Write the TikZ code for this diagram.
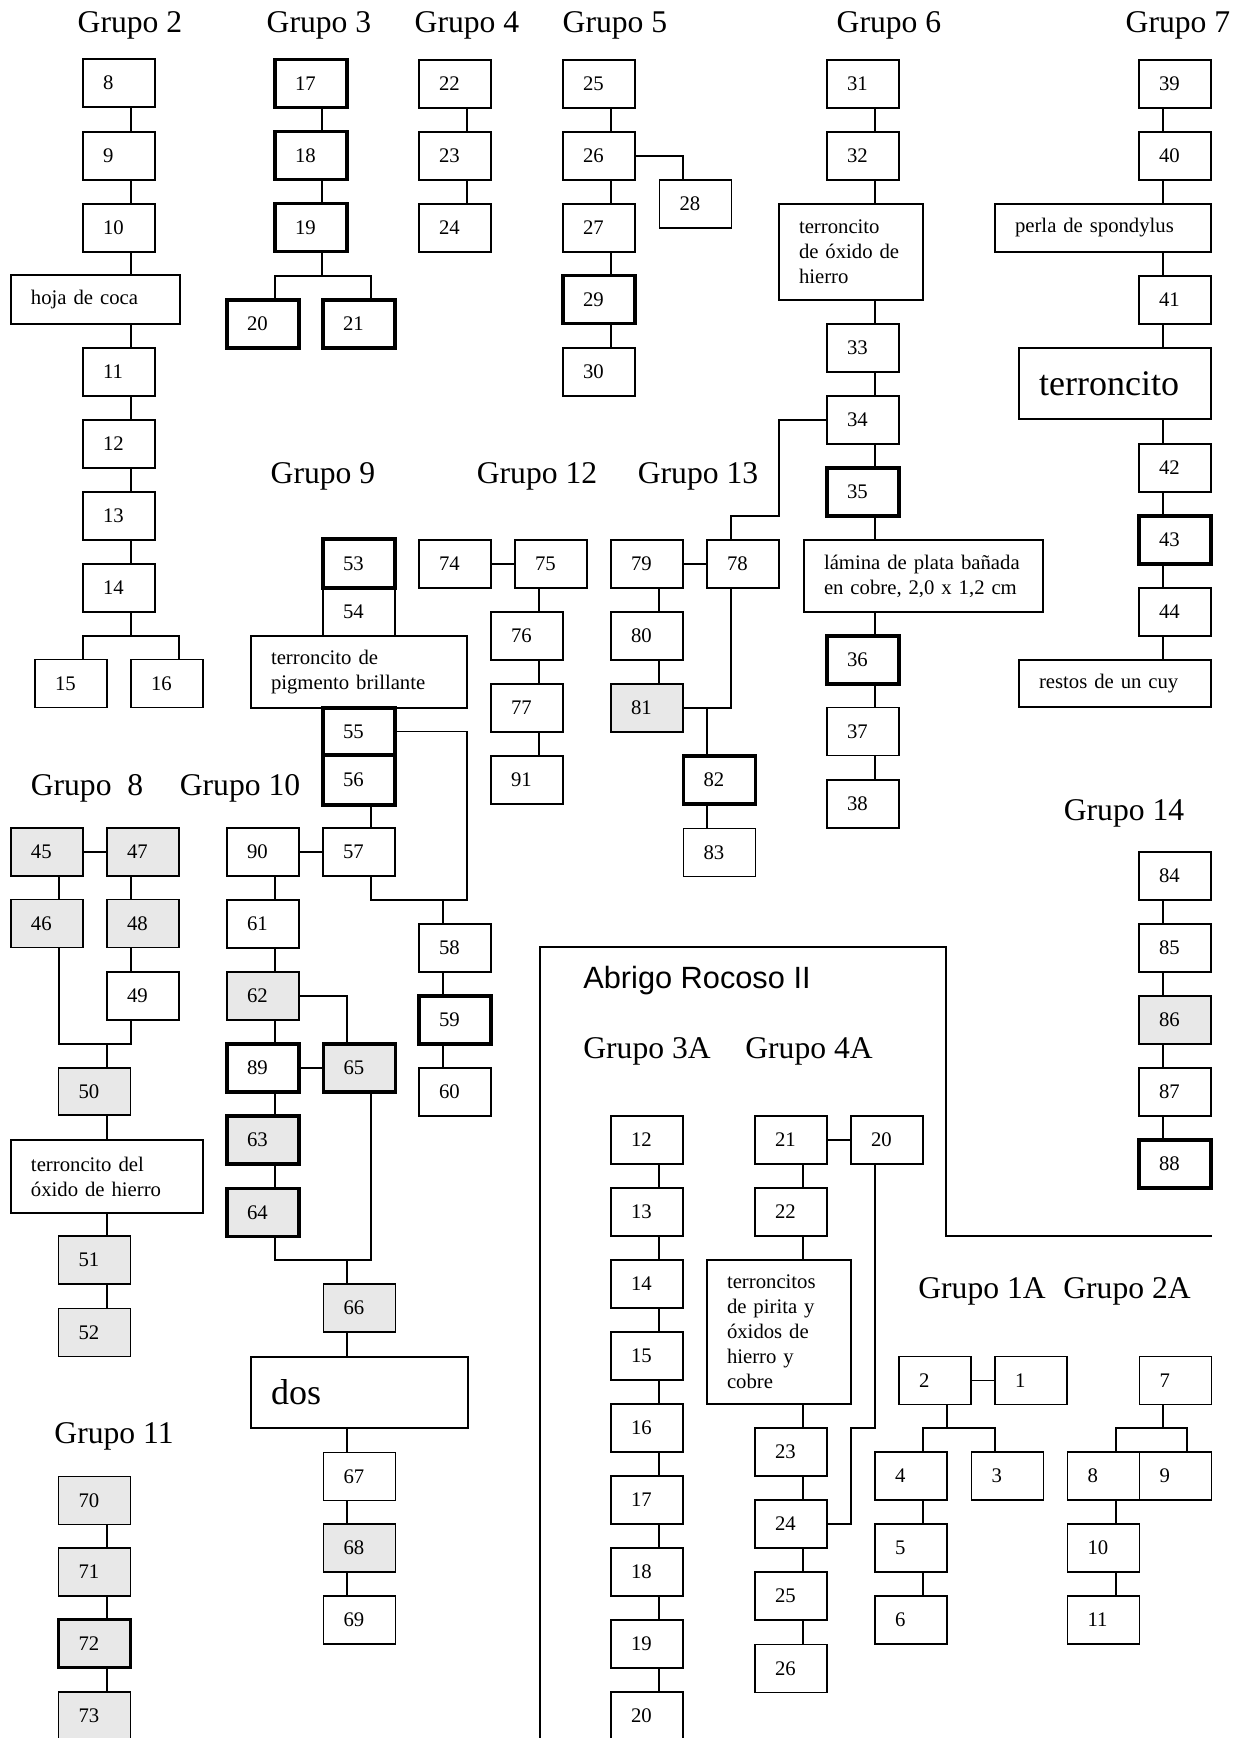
\documentclass[tikz,border=0pt]{standalone}
\usepackage{fontspec}
\setmainfont{Liberation Serif}
\newfontfamily\abrigofont{Liberation Sans}
\definecolor{shade}{gray}{0.91}
\newlength{\pxl}
\setlength{\pxl}{0.02cm}
\tikzset{
  box/.style={draw, line width=0.8pt, inner xsep=20\pxl, inner ysep=0pt,
    text width=32\pxl, minimum height=48\pxl, align=left,
    font=\fontsize{11.8}{14.2}\selectfont},
  heavy/.style={line width=2pt},
  grayfill/.style={fill=shade},
  grp/.style={anchor=base, inner sep=0pt, font=\fontsize{18}{21}\selectfont},
  link/.style={line width=0.8pt}
}

\begin{document}
\begin{tikzpicture}[x=0.02cm, y=-0.02cm]
  \useasboundingbox (0,0) rectangle (1242,1738);

  % Labels
  \node[grp] at (130,32) {Grupo 2};
  \node[grp] at (319,32) {Grupo 3};
  \node[grp] at (467,32) {Grupo 4};
  \node[grp] at (615,32) {Grupo 5};
  \node[grp] at (889,32) {Grupo 6};
  \node[grp] at (1178,32) {Grupo 7};
  \node[grp] at (323,483) {Grupo 9};
  \node[grp] at (537,483) {Grupo 12};
  \node[grp] at (698,483) {Grupo 13};
  \node[grp] at (87,795) {Grupo~~8};
  \node[grp] at (240,795) {Grupo 10};
  \node[grp] at (1124,820) {Grupo 14};
  \node[grp] at (114,1443) {Grupo 11};

  % Grupo 2
  \node[box] (n8) at (119,83) {8};
  \node[box] (n9) at (119,156) {9};
  \node[box] (n10) at (119,228) {10};
  \node[box, text width=129\pxl, minimum height=49\pxl] (coca) at (95.5,299.5) {hoja de coca};
  \node[box] (n11) at (119,372) {11};
  \node[box] (n12) at (119,444) {12};
  \node[box] (n13) at (119,516) {13};
  \node[box] (n14) at (119,588) {14};
  \node[box] (n15) at (71,683.5) {15};
  \node[box] (n16) at (167,683.5) {16};
  \coordinate (s2) at (131,0);
  \foreach \a/\b in {n8/n9,n9/n10,n10/coca,coca/n11,n11/n12,n12/n13,n13/n14}
    \draw[link] (\a.south -| s2) -- (\b.north -| s2);
  \coordinate (j2) at (131,636);
  \coordinate (l15) at (83,636);
  \coordinate (l16) at (179,636);
  \draw[link] (n14.south -| s2) -- (j2);
  \draw[link] (n15.north -| l15) -- (l15) -- (l16) -- (n16.north -| l16);

  % Grupo 3
  \node[box, heavy] (n17) at (311,83.5) {17};
  \node[box, heavy] (n18) at (311,155.5) {18};
  \node[box, heavy] (n19) at (311,227.5) {19};
  \node[box, heavy] (n20) at (263,324) {20};
  \node[box, heavy] (n21) at (359,324) {21};
  \coordinate (s3) at (322,0);
  \draw[link] (n17.south -| s3) -- (n18.north -| s3);
  \draw[link] (n18.south -| s3) -- (n19.north -| s3);
  \coordinate (j3) at (322,276);
  \coordinate (l20) at (275,276);
  \coordinate (l21) at (371,276);
  \draw[link] (n19.south -| s3) -- (j3);
  \draw[link] (n20.north -| l20) -- (l20) -- (l21) -- (n21.north -| l21);

  % Grupo 4
  \node[box] (n22) at (455,84) {22};
  \node[box] (n23) at (455,156) {23};
  \node[box] (n24) at (455,228) {24};
  \coordinate (s4) at (467,0);
  \draw[link] (n22.south -| s4) -- (n23.north -| s4);
  \draw[link] (n23.south -| s4) -- (n24.north -| s4);

  % Grupo 5
  \node[box] (n25) at (599,84) {25};
  \node[box] (n26) at (599,156) {26};
  \node[box] (n27) at (599,228) {27};
  \node[box] (n28) at (695.5,204) {28};
  \node[box, heavy] (n29) at (599,299.5) {29};
  \node[box] (n30) at (599,372) {30};
  \coordinate (s5) at (611,0);
  \foreach \a/\b in {n25/n26,n26/n27,n27/n29,n29/n30}
    \draw[link] (\a.south -| s5) -- (\b.north -| s5);
  \coordinate (s28) at (683,0);
  \draw[link] (n26.east) -| (n28.north -| s28);

  % Grupo 6
  \node[box] (n31) at (863,84) {31};
  \node[box] (n32) at (863,156) {32};
  \node[box, text width=104\pxl, minimum height=96\pxl] (ox6) at (851,252)
    {terroncito\\de óxido de\\hierro};
  \node[box] (n33) at (863,348) {33};
  \node[box] (n34) at (863,420) {34};
  \node[box, heavy] (n35) at (863,492) {35};
  \node[box, text width=199\pxl, minimum height=72\pxl] (lam) at (923.5,576)
    {lámina de plata bañada\\en cobre, 2,0 x 1,2 cm};
  \node[box, heavy] (n36) at (863,660) {36};
  \node[box] (n37) at (863,731.5) {37};
  \node[box] (n38) at (863,804) {38};
  \coordinate (s6) at (875,0);
  \foreach \a/\b in {n31/n32,n32/ox6,ox6/n33,n33/n34,n34/n35,n35/lam,lam/n36,n36/n37,n37/n38}
    \draw[link] (\a.south -| s6) -- (\b.north -| s6);

  % Grupo 7
  \node[box] (n39) at (1175,84) {39};
  \node[box] (n40) at (1175,156) {40};
  \node[box, text width=176\pxl] (perla) at (1103,228) {perla de spondylus};
  \node[box] (n41) at (1175,300) {41};
  \node[box, text width=152\pxl, minimum height=71\pxl,
    font=\fontsize{20.5}{24}\selectfont] (terr7) at (1115,383.5) {terroncito};
  \node[box] (n42) at (1175,468) {42};
  \node[box, heavy] (n43) at (1175,540) {43};
  \node[box] (n44) at (1175,612) {44};
  \node[box, text width=152\pxl, minimum height=47\pxl] (cuy) at (1115,683.5) {restos de un cuy};
  \coordinate (s7) at (1163,0);
  \foreach \a/\b in {n39/n40,n40/perla,perla/n41,n41/terr7,terr7/n42,n42/n43,n43/n44,n44/cuy}
    \draw[link] (\a.south -| s7) -- (\b.north -| s7);

  % Grupo 9
  \node[box] (n54) at (359,612) {54};
  \node[box, heavy, minimum height=49\pxl] (n53) at (359,563.5) {53};
  \node[box, text width=176\pxl, minimum height=72\pxl] (pig) at (359,672)
    {terroncito de\\pigmento brillante};
  \node[box, heavy, minimum height=47\pxl] (n55) at (359,731.5) {55};
  \node[box, heavy, minimum height=50\pxl] (n56) at (359,780) {56};
  \node[box] (n58) at (455,948) {58};
  \node[box, heavy] (n59) at (455,1020) {59};
  \node[box] (n60) at (455,1092) {60};

  % Grupo 10
  \node[box] (n57) at (359,852) {57};
  \node[box] (n90) at (263,852) {90};
  \node[box] (n61) at (263,924) {61};
  \node[box, grayfill] (n62) at (263,996) {62};
  \node[box, heavy] (n89) at (263,1068) {89};
  \node[box, heavy, grayfill] (n65) at (359.5,1068) {65};
  \node[box, heavy, grayfill] (n63) at (263,1140) {63};
  \node[box, heavy, grayfill] (n64) at (263,1212.5) {64};
  \node[box, grayfill] (n66) at (359.5,1308) {66};
  \node[box, text width=177\pxl, minimum height=71\pxl,
    font=\fontsize{20.5}{24}\selectfont] (dos) at (359.5,1392.5) {dos};
  \node[box] (n67) at (359.5,1476.5) {67};
  \node[box, grayfill] (n68) at (359.5,1548) {68};
  \node[box] (n69) at (359.5,1620) {69};

  \coordinate (s57) at (371,0);
  \coordinate (j55) at (467,900);
  \coordinate (s58) at (443,0);
  \draw[link] (n56.south -| s57) -- (n57.north -| s57);
  \draw[link] (n55.east) -| (j55) -| (n57.south -| s57);
  \draw[link] (j55 -| s58) -- (n58.north -| s58);
  \draw[link] (n58.south -| s58) -- (n59.north -| s58);
  \draw[link] (n59.south -| s58) -- (n60.north -| s58);

  \draw[link] (n90) -- (n57);
  \draw[link] (n89) -- (n65);
  \coordinate (s10) at (275,0);
  \foreach \a/\b in {n90/n61,n61/n62,n62/n89,n89/n63,n63/n64}
    \draw[link] (\a.south -| s10) -- (\b.north -| s10);
  \coordinate (s65) at (347,0);
  \draw[link] (n62.east) -| (n65.north -| s65);
  \coordinate (j10) at (371,1260);
  \draw[link] (n64.south -| s10) |- (j10) -- (n65.south -| j10);
  \draw[link] (j10 -| s65) -- (n66.north -| s65);
  \foreach \a/\b in {n66/dos,dos/n67,n67/n68,n68/n69}
    \draw[link] (\a.south -| s65) -- (\b.north -| s65);

  % Grupo 8
  \node[box, grayfill] (n45) at (47,852) {45};
  \node[box, grayfill] (n47) at (143,852) {47};
  \node[box, grayfill] (n46) at (47,923.5) {46};
  \node[box, grayfill] (n48) at (143,923.5) {48};
  \node[box] (n49) at (143,996) {49};
  \node[box, grayfill, minimum height=47\pxl] (n50) at (94.5,1091.5) {50};
  \node[box, text width=152\pxl, minimum height=73\pxl] (ox8) at (107,1176.5)
    {terroncito del\\óxido de hierro};
  \node[box, grayfill] (n51) at (94.5,1260) {51};
  \node[box, grayfill] (n52) at (94.5,1332.5) {52};
  \draw[link] (n45) -- (n47);
  \coordinate (s45) at (59,0);
  \coordinate (s47) at (131,0);
  \draw[link] (n45.south -| s45) -- (n46.north -| s45);
  \draw[link] (n47.south -| s47) -- (n48.north -| s47);
  \draw[link] (n48.south -| s47) -- (n49.north -| s47);
  \coordinate (j8) at (107,1044);
  \coordinate (s8) at (107,0);
  \draw[link] (n46.south -| s45) |- (j8) -| (n49.south -| s47);
  \draw[link] (j8) -- (n50.north -| s8);
  \foreach \a/\b in {n50/ox8,ox8/n51,n51/n52}
    \draw[link] (\a.south -| s8) -- (\b.north -| s8);

  % Grupo 11
  \node[box, grayfill] (n70) at (94.5,1500.5) {70};
  \node[box, grayfill] (n71) at (94.5,1572) {71};
  \node[box, heavy, grayfill] (n72) at (94.5,1643.5) {72};
  \node[box, grayfill] (n73) at (94.5,1716) {73};
  \foreach \a/\b in {n70/n71,n71/n72,n72/n73}
    \draw[link] (\a.south -| s8) -- (\b.north -| s8);

  % Grupo 12
  \node[box] (n74) at (455,564) {74};
  \node[box] (n75) at (551,564) {75};
  \node[box] (n76) at (527,636) {76};
  \node[box] (n77) at (527,708) {77};
  \node[box] (n91) at (527,780) {91};
  \draw[link] (n74) -- (n75);
  \coordinate (s12) at (539,0);
  \foreach \a/\b in {n75/n76,n76/n77,n77/n91}
    \draw[link] (\a.south -| s12) -- (\b.north -| s12);

  % Grupo 13
  \node[box] (n79) at (647,564) {79};
  \node[box] (n78) at (743,564) {78};
  \node[box] (n80) at (647,636) {80};
  \node[box, grayfill] (n81) at (647,708) {81};
  \node[box, heavy] (n82) at (719.5,780) {82};
  \node[box] (n83) at (719.5,852.5) {83};
  \draw[link] (n79) -- (n78);
  \coordinate (s13) at (659,0);
  \draw[link] (n79.south -| s13) -- (n80.north -| s13);
  \draw[link] (n80.south -| s13) -- (n81.north -| s13);
  \coordinate (s78) at (731,0);
  \coordinate (s82) at (707,0);
  \draw[link] (n81.east) -| (n78.south -| s78);
  \draw[link] (n81.east -| s82) -- (n82.north -| s82);
  \draw[link] (n82.south -| s82) -- (n83.north -| s82);
  \coordinate (j34) at (779,516);
  \draw[link] (n34.west) -| (j34) -| (n78.north -| s78);

  % Grupo 14
  \node[box] (n84) at (1175,876) {84};
  \node[box] (n85) at (1175,948) {85};
  \node[box, grayfill] (n86) at (1175,1020) {86};
  \node[box] (n87) at (1175,1092) {87};
  \node[box, heavy] (n88) at (1175,1164) {88};
  \foreach \a/\b in {n84/n85,n85/n86,n86/n87,n87/n88}
    \draw[link] (\a.south -| s7) -- (\b.north -| s7);

  % Abrigo Rocoso II
  \draw[link] (540,1745) -- (540,947) -- (946,947) -- (946,1236) -- (1212,1236);
  \node[anchor=base west, inner sep=0pt, font=\abrigofont\fontsize{17.5}{21}\selectfont]
    at (583,988) {Abrigo Rocoso II};
  \node[grp, anchor=base west] at (583,1058) {Grupo 3A};
  \node[grp, anchor=base west] at (745,1058) {Grupo 4A};
  \node[grp, anchor=base west] at (918,1298) {Grupo 1A};
  \node[grp, anchor=base west] at (1063,1298) {Grupo 2A};

  % Grupo 3A
  \foreach \i in {12,...,20}
    \node[box] (a3-\i) at (647,{1140+72*(\i-12)}) {\i};
  \coordinate (s3a) at (659,0);
  \foreach \a/\b in {12/13,13/14,14/15,15/16,16/17,17/18,18/19,19/20}
    \draw[link] (a3-\a.south -| s3a) -- (a3-\b.north -| s3a);

  % Grupo 4A
  \node[box] (a4-21) at (791,1140) {21};
  \node[box] (a4-20) at (887,1140) {20};
  \node[box] (a4-22) at (791,1212) {22};
  \node[box, text width=104\pxl, minimum height=144\pxl] (pir) at (779,1332)
    {terroncitos\\de pirita y\\óxidos de\\hierro y\\cobre};
  \node[box] (a4-23) at (791,1452) {23};
  \node[box] (a4-24) at (791,1524) {24};
  \node[box] (a4-25) at (791,1596) {25};
  \node[box] (a4-26) at (791,1668.5) {26};
  \draw[link] (a4-21) -- (a4-20);
  \coordinate (s4a) at (803,0);
  \foreach \a/\b in {a4-21/a4-22,a4-22/pir,pir/a4-23,a4-23/a4-24,a4-24/a4-25,a4-25/a4-26}
    \draw[link] (\a.south -| s4a) -- (\b.north -| s4a);
  \coordinate (s20) at (875,0);
  \coordinate (j20) at (851,1428);
  \draw[link] (a4-20.south -| s20) |- (j20) |- (a4-24.east);

  % Grupo 1A
  \node[box] (a1-2) at (935,1380.5) {2};
  \node[box] (a1-1) at (1031,1380.5) {1};
  \node[box] (a1-4) at (911,1476) {4};
  \node[box] (a1-3) at (1007.5,1476) {3};
  \node[box] (a1-5) at (911,1548) {5};
  \node[box] (a1-6) at (911,1620) {6};
  \draw[link] (a1-2) -- (a1-1);
  \coordinate (j1a) at (947,1428);
  \coordinate (l4) at (923,1428);
  \coordinate (l3) at (995,1428);
  \draw[link] (a1-2.south -| j1a) -- (j1a);
  \draw[link] (a1-4.north -| l4) -- (l4) -- (l3) -- (a1-3.north -| l3);
  \draw[link] (a1-4.south -| l4) -- (a1-5.north -| l4);
  \draw[link] (a1-5.south -| l4) -- (a1-6.north -| l4);

  % Grupo 2A
  \node[box] (a2-7) at (1175.5,1380.5) {7};
  \node[box] (a2-8) at (1103.5,1476) {8};
  \node[box] (a2-9) at (1175.5,1476) {9};
  \node[box] (a2-10) at (1103.5,1548) {10};
  \node[box] (a2-11) at (1103.5,1620) {11};
  \coordinate (j2a) at (1163,1428);
  \coordinate (l8) at (1116,1428);
  \coordinate (l9) at (1187,1428);
  \draw[link] (a2-7.south -| j2a) -- (j2a);
  \draw[link] (a2-8.north -| l8) -- (l8) -- (l9) -- (a2-9.north -| l9);
  \draw[link] (a2-8.south -| l8) -- (a2-10.north -| l8);
  \draw[link] (a2-10.south -| l8) -- (a2-11.north -| l8);
\end{tikzpicture}
\end{document}
